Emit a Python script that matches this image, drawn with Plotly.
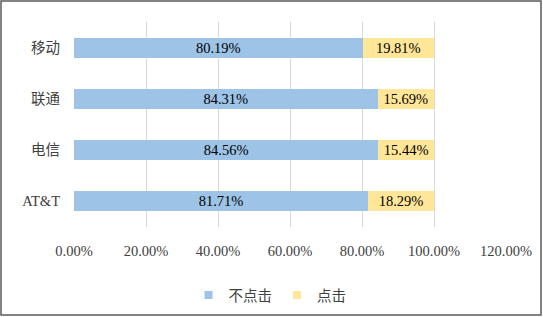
import plotly.graph_objects as go

categories = ["移动", "联通", "电信", "AT&T"]
no_click = [80.19, 84.31, 84.56, 81.71]
click = [19.81, 15.69, 15.44, 18.29]
series_names = ["不点击", "点击"]
series_colors = ["#9DC3E6", "#FFE699"]
tick_vals = [0, 20, 40, 60, 80, 100, 120]
tick_text = ["0.00%", "20.00%", "40.00%", "60.00%", "80.00%", "100.00%", "120.00%"]

FONT = "Liberation Serif, Times New Roman, Noto Sans CJK SC, serif"
TXT = "#404040"

fig = go.Figure()
for name, vals, col in zip(series_names, [no_click, click], series_colors):
    fig.add_trace(go.Bar(
        y=categories, x=vals, orientation="h", name=name, showlegend=False,
        legendgroup=name,
        marker=dict(color=col, line=dict(width=0)),
        text=[f"{v:.2f}%" for v in vals], textposition="inside",
        insidetextanchor="middle", textangle=0, constraintext="none",
        textfont=dict(color="black", size=14.5, family=FONT),
    ))
# legend entries with small square swatches
for name, col in zip(series_names, series_colors):
    fig.add_trace(go.Scatter(
        x=[None], y=[None], mode="markers", name=name, legendgroup=name,
        marker=dict(symbol="square", size=8, color=col),
    ))

L, R, T, B = 74, 37, 22, 90
W, H = 543, 317
pw, ph = W - L - R, H - T - B

fig.update_layout(
    width=W, height=H, barmode="stack", bargap=0.61,
    margin=dict(l=L, r=R, t=T, b=B, autoexpand=False),
    paper_bgcolor="white", plot_bgcolor="white",
    font=dict(family=FONT, size=14.5, color=TXT),
    xaxis=dict(range=[0, 120], tickvals=tick_vals, ticktext=tick_text,
               showgrid=True, gridcolor="#D9D9D9", gridwidth=1,
               zeroline=False, showline=False, ticks="", automargin=False,
               ticklabelstandoff=13,
               tickfont=dict(size=14.5, color=TXT, family=FONT)),
    yaxis=dict(categoryorder="array", categoryarray=categories,
               autorange="reversed", showgrid=False, zeroline=False,
               ticks="", ticklabelstandoff=13, automargin=False,
               tickfont=dict(size=14.5, color=TXT, family=FONT)),
    legend=dict(orientation="h", x=0.5 - 20 / pw, xanchor="center",
                yref="container", y=1 - 295 / H, yanchor="middle",
                font=dict(size=14.5, color=TXT, family=FONT),
                traceorder="normal", itemwidth=30),
    showlegend=True,
    shapes=[dict(type="rect", xref="paper", yref="paper",
                 x0=(1 - L) / pw, x1=(W - 2 - L) / pw,
                 y0=(ph + T - (H - 2)) / ph, y1=(ph + T - 1) / ph,
                 line=dict(color="#595959", width=1.5), layer="above")],
)

fig.write_html("out.html", config={"displayModeBar": False},
               post_script="document.body.style.margin='0';document.body.style.overflow='hidden';")
